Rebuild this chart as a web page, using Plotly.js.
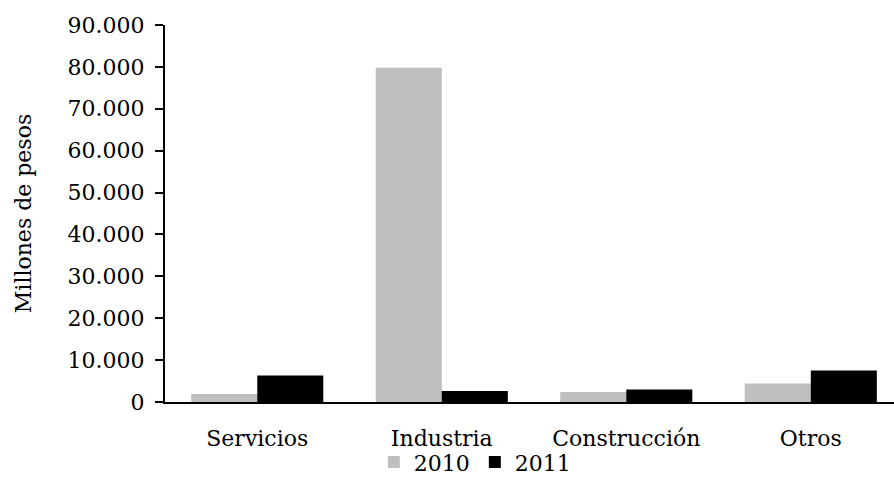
<!DOCTYPE html>
<html>
<head>
<meta charset="utf-8">
<script src="https://cdn.plot.ly/plotly-3.0.1.min.js"></script>
<style>html,body{margin:0;padding:0;background:#fff;}#chart{width:894px;height:479px;}</style>
</head>
<body>
<div id="chart"></div>
<script>
const categories = ["Servicios", "Industria", "Construcción", "Otros"];
const series2010 = [1900, 79800, 2400, 4400];
const series2011 = [6300, 2600, 3000, 7500];
const seriesNames = ["2010", "2011"];
const yTicks = [0, 10000, 20000, 30000, 40000, 50000, 60000, 70000, 80000, 90000];

const FONT = "DejaVu Serif, Liberation Serif, serif";
const FS = 22;

const traces = [
  {type: "bar", name: seriesNames[0], x: categories, y: series2010,
   marker: {color: "#BFBFBF"}, hoverinfo: "none"},
  {type: "bar", name: seriesNames[1], x: categories, y: series2011,
   marker: {color: "#000000"}, hoverinfo: "none"}
];

const layout = {
  width: 894, height: 479,
  margin: {l: 165, r: 0, t: 25, b: 77, pad: 0, autoexpand: false},
  paper_bgcolor: "#ffffff", plot_bgcolor: "#ffffff",
  font: {family: FONT, size: FS, color: "#000"},
  separators: ",.",
  barmode: "group",
  bargap: 0.284,
  bargroupgap: 0,
  showlegend: true,
  legend: {orientation: "h", x: 0.425, xanchor: "center", y: -0.16, yanchor: "middle",
           bgcolor: "rgba(0,0,0,0)",
           font: {family: FONT, size: FS, color: "#000"}, itemwidth: 30, tracegroupgap: 0},
  xaxis: {
    type: "category", range: [-0.5, 3.451], automargin: false,
    showline: true, linecolor: "#000", linewidth: 2,
    ticks: "", showgrid: false, zeroline: false,
    ticklabelstandoff: 16,
    tickfont: {family: FONT, size: FS, color: "#000"}
  },
  yaxis: {
    range: [0, 90000], tickvals: yTicks, tickformat: ",d", automargin: false,
    showline: true, linecolor: "#000", linewidth: 2,
    ticks: "outside", ticklen: 8, tickwidth: 2, tickcolor: "#000",
    showgrid: false, zeroline: false,
    ticklabelstandoff: 6,
    tickfont: {family: FONT, size: FS, color: "#000"},
    title: {text: "Millones de pesos", font: {family: FONT, size: FS, color: "#000"}, standoff: 30}
  }
};

Plotly.newPlot("chart", traces, layout, {displayModeBar: false, staticPlot: true});
</script>
</body>
</html>
